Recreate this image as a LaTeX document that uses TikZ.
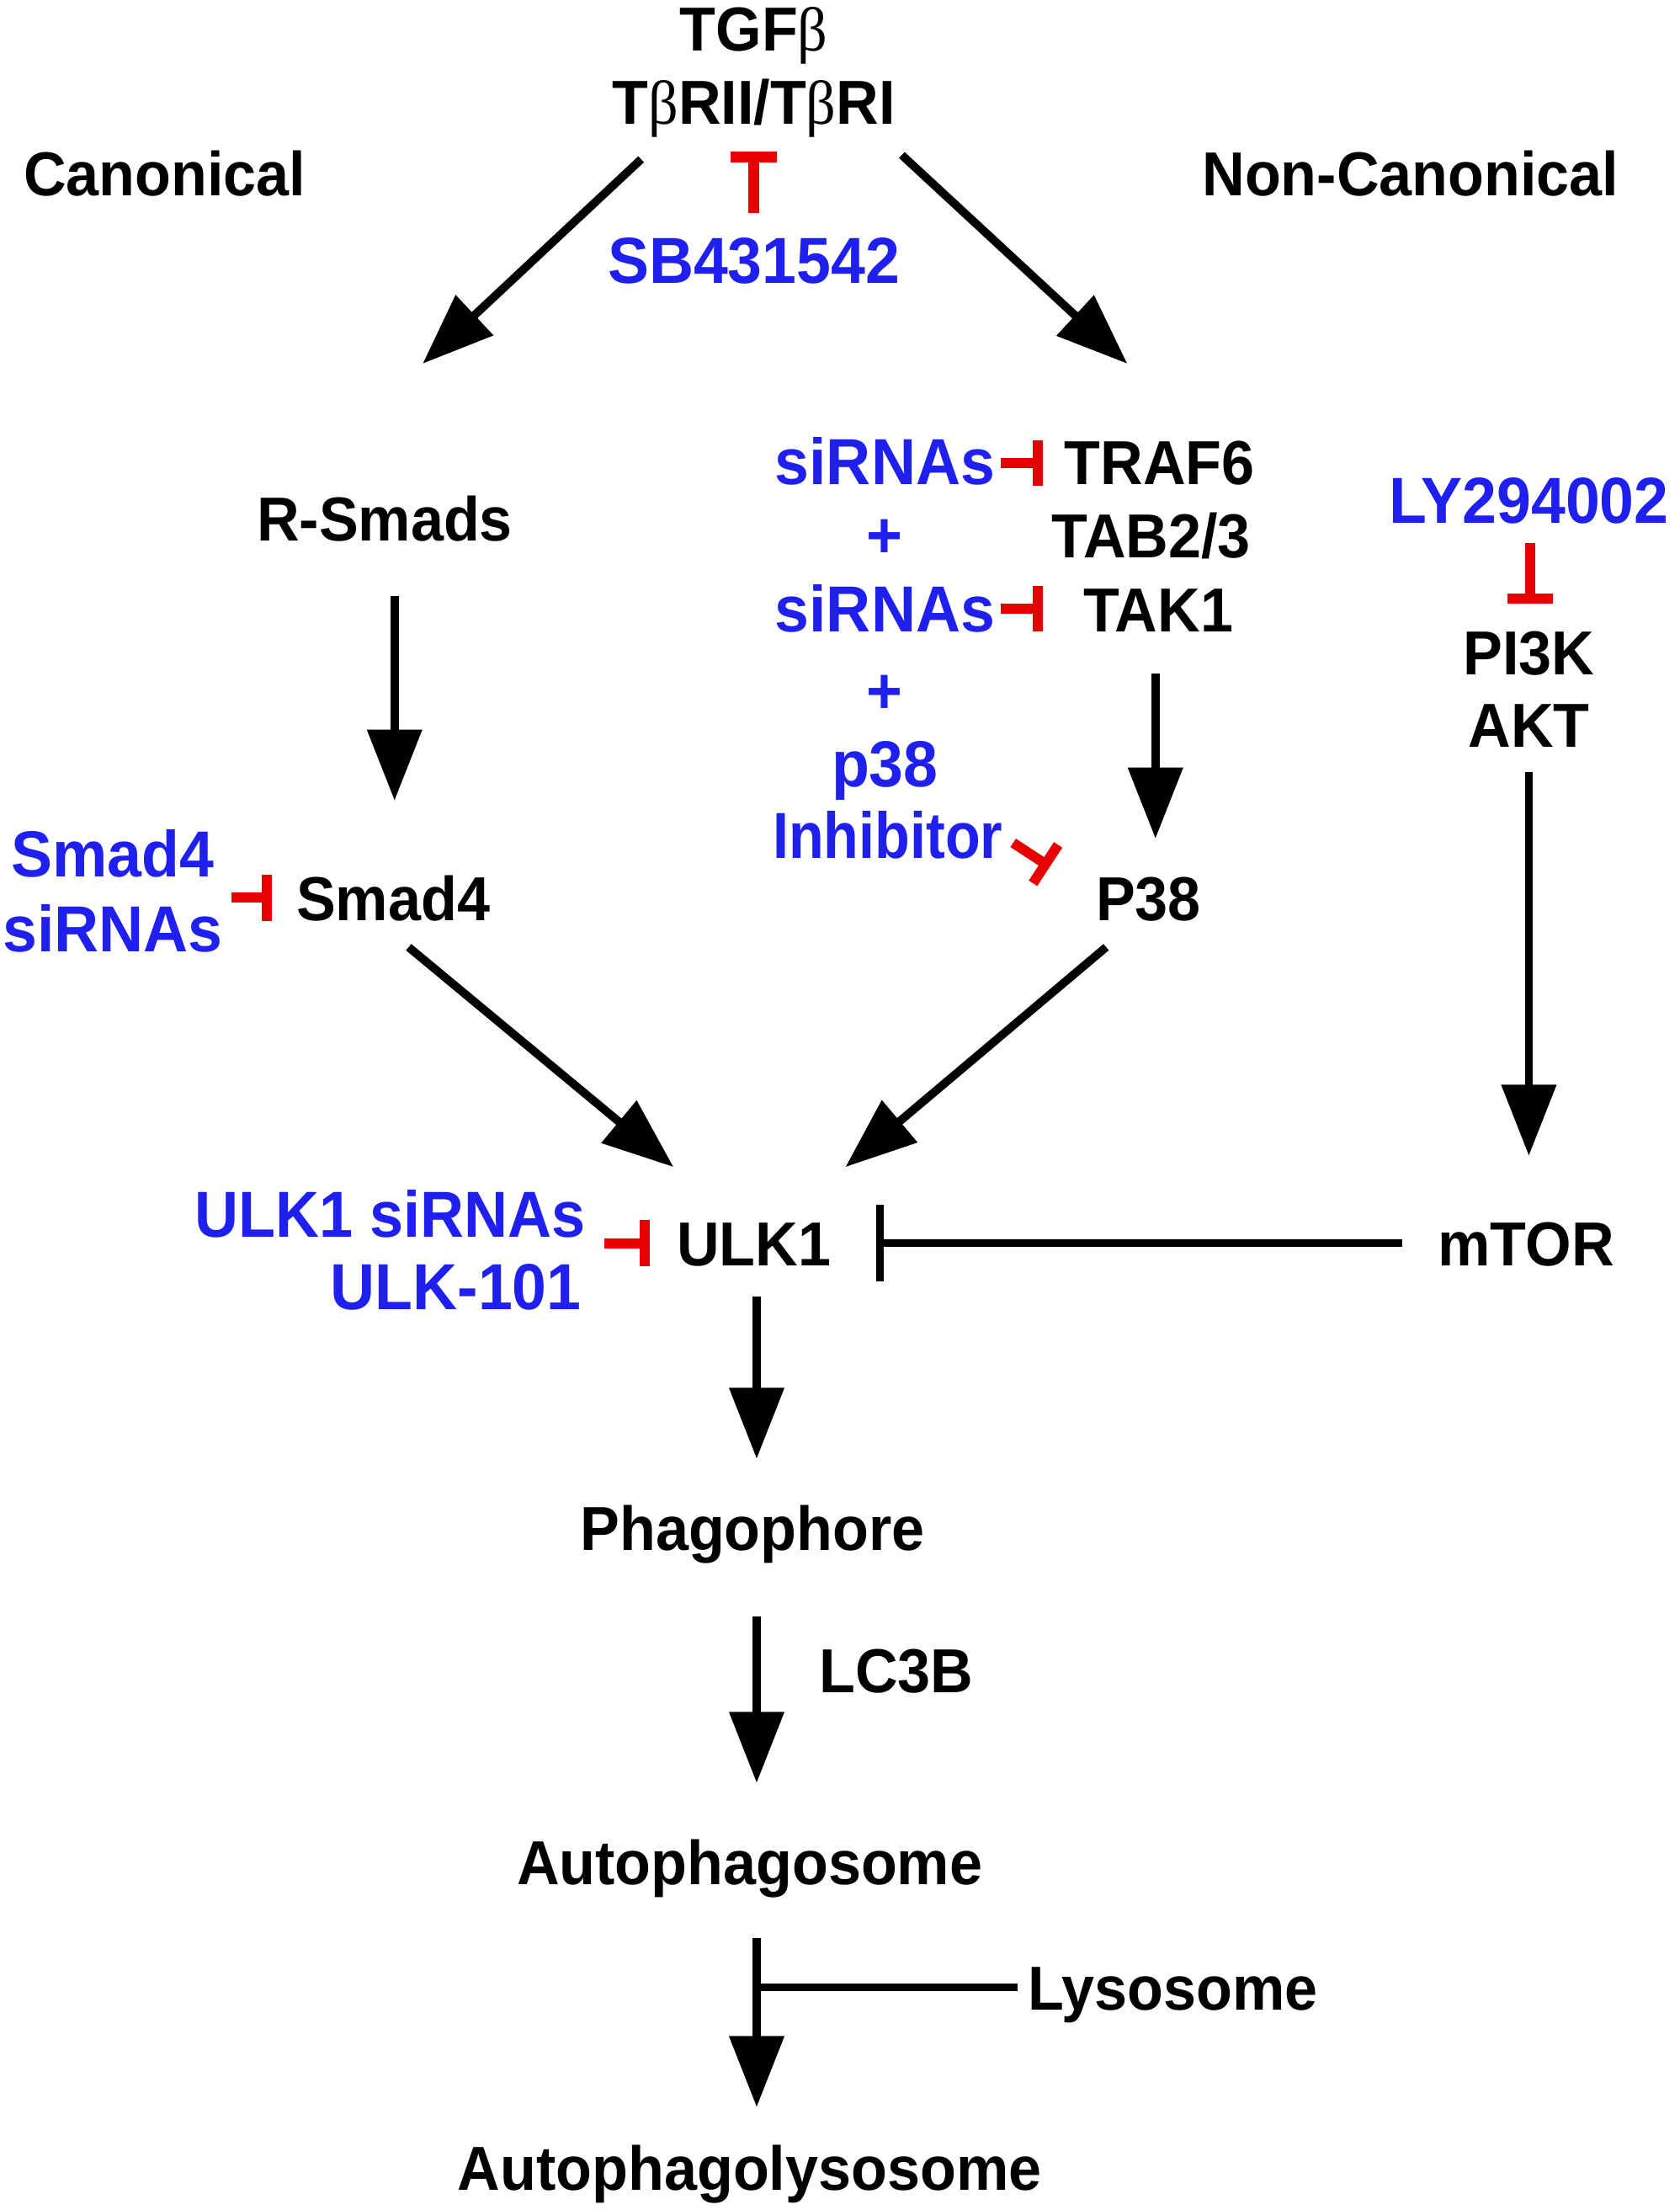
\documentclass[tikz,border=0pt]{standalone}
\usepackage{fontspec}
\setmainfont{Liberation Sans}[FakeStretch=0.95]
\newfontfamily\betafont{Liberation Serif}[FakeStretch=0.95]
\usetikzlibrary{arrows.meta}
\definecolor{dblue}{RGB}{32,32,238}
\definecolor{dred}{RGB}{230,0,0}
\newcommand{\bt}{{\betafont\mdseries β}}
\begin{document}
\begin{tikzpicture}[x=0.016736cm,y=-0.016736cm,
  lbl/.style={inner sep=0pt,anchor=base,font=\fontsize{21}{25}\selectfont\bfseries},
  lblr/.style={lbl,anchor=base east},
  lbll/.style={lbl,anchor=base west},
  drug/.style={text=dblue,font=\fontsize{22}{26}\selectfont\bfseries},
  act/.style={line width=2.8pt,-{Triangle[width=18pt,length=24pt]}},
  inh/.style={dred,line width=3.4pt,-{Bar[width=15.5pt]}},
  blk/.style={line width=2.6pt,-{Bar[width=26pt]}},
  plain/.style={line width=2.6pt}]
\useasboundingbox (0,0) rectangle (1192,1568);
\fill[white] (0,0) rectangle (1192,1568);
% texts
\node[lbl] (tgf) at (535,36) {TGF\bt};
\node[lbl] (rec) at (535,88) {T\bt RII/T\bt RI};
\node[lbl] (can) at (117,139) {Canonical};
\node[lbl] (ncan) at (1001,139) {Non-Canonical};
\node[lbl,drug] (sb) at (535,201) {SB431542};
\node[lbl] (rsmad) at (273,384) {R-Smads};
\node[lbl] (traf) at (823,344) {TRAF6};
\node[lbl] (tab) at (817,396) {TAB2/3};
\node[lbl] (tak) at (822,448) {TAK1};
\node[lbl,drug] (si1) at (628,344) {siRNAs};
\node[lbl,drug] (pl1) at (628,396) {+};
\node[lbl,drug] (si2) at (628,448) {siRNAs};
\node[lbl,drug] (pl2) at (628,506) {+};
\node[lbl,drug] (p38i) at (628,558) {p38};
\node[lbl,drug] (inhi) at (630,609) {\scalebox{0.93}[1]{Inhibitor}};
\node[lbl] (p38) at (815,653) {P38};
\node[lbl,drug] (ly) at (1085,371) {LY294002};
\node[lbl] (pi3k) at (1085,479) {PI3K};
\node[lbl] (akt) at (1085,530) {AKT};
\node[lbl] (mtor) at (1083,898) {mTOR};
\node[lbl] (smad4) at (279,653) {Smad4};
\node[lbl,drug] (ssi1) at (80,622) {Smad4};
\node[lbl,drug] (ssi2) at (80,675) {siRNAs};
\node[lbl] (ulk) at (535,898) {ULK1};
\node[lblr,drug] (usi) at (416,878) {\scalebox{0.98}[1]{ULK1 siRNAs}};
\node[lblr,drug] (u101) at (413,929) {ULK-101};
\node[lbl] (phago) at (534,1100) {Phagophore};
\node[lbl] (lc3) at (636,1201) {LC3B};
\node[lbl] (auto) at (532,1337) {Autophagosome};
\node[lbll] (lyso) at (729,1426) {Lysosome};
\node[lbl] (alys) at (532,1554) {Autophagolysosome};
% coordinates
\coordinate (a1s) at (455,113); \coordinate (a1e) at (300,258);
\coordinate (a2s) at (640,110); \coordinate (a2e) at (800,258);
\coordinate (a3s) at (280,423); \coordinate (a3e) at (280,568);
\coordinate (a4s) at (820,478); \coordinate (a4e) at (820,595);
\coordinate (a5s) at (1085,548); \coordinate (a5e) at (1085,820);
\coordinate (a6s) at (290,672); \coordinate (a6e) at (478,828);
\coordinate (a7s) at (785,672); \coordinate (a7e) at (600,828);
\coordinate (a8s) at (537,920); \coordinate (a8e) at (537,1035);
\coordinate (a9s) at (537,1147); \coordinate (a9e) at (537,1265);
\coordinate (a10s) at (537,1375); \coordinate (a10e) at (537,1495);
\coordinate (lyj) at (537,1410); \coordinate (lyl) at (722,1410);
\coordinate (i1s) at (535,151); \coordinate (i1e) at (535,107.5);
\coordinate (i2s) at (710,328.5); \coordinate (i2e) at (740,328.5);
\coordinate (i3s) at (710,432); \coordinate (i3e) at (740,432);
\coordinate (i4s) at (719,598); \coordinate (i4e) at (745,615);
\coordinate (i5s) at (1086,385); \coordinate (i5e) at (1086,428);
\coordinate (i6s) at (164,637); \coordinate (i6e) at (193,637);
\coordinate (i7s) at (429,882); \coordinate (i7e) at (461,882);
\coordinate (m1s) at (995,882); \coordinate (m1e) at (622,882);
% connectors
\draw[act] (a1s) -- (a1e);
\draw[act] (a2s) -- (a2e);
\draw[act] (a3s) -- (a3e);
\draw[act] (a4s) -- (a4e);
\draw[act] (a5s) -- (a5e);
\draw[act] (a6s) -- (a6e);
\draw[act] (a7s) -- (a7e);
\draw[act] (a8s) -- (a8e);
\draw[act] (a9s) -- (a9e);
\draw[act] (a10s) -- (a10e);
\draw[plain] (lyl) -- (lyj);
\draw[inh,line width=3.8pt] (i1s) -- (i1e);
\draw[inh] (i2s) -- (i2e);
\draw[inh] (i3s) -- (i3e);
\draw[inh] (i4s) -- (i4e);
\draw[inh] (i5s) -- (i5e);
\draw[inh] (i6s) -- (i6e);
\draw[inh] (i7s) -- (i7e);
\draw[blk] (m1s) -- (m1e);
\end{tikzpicture}
\end{document}
